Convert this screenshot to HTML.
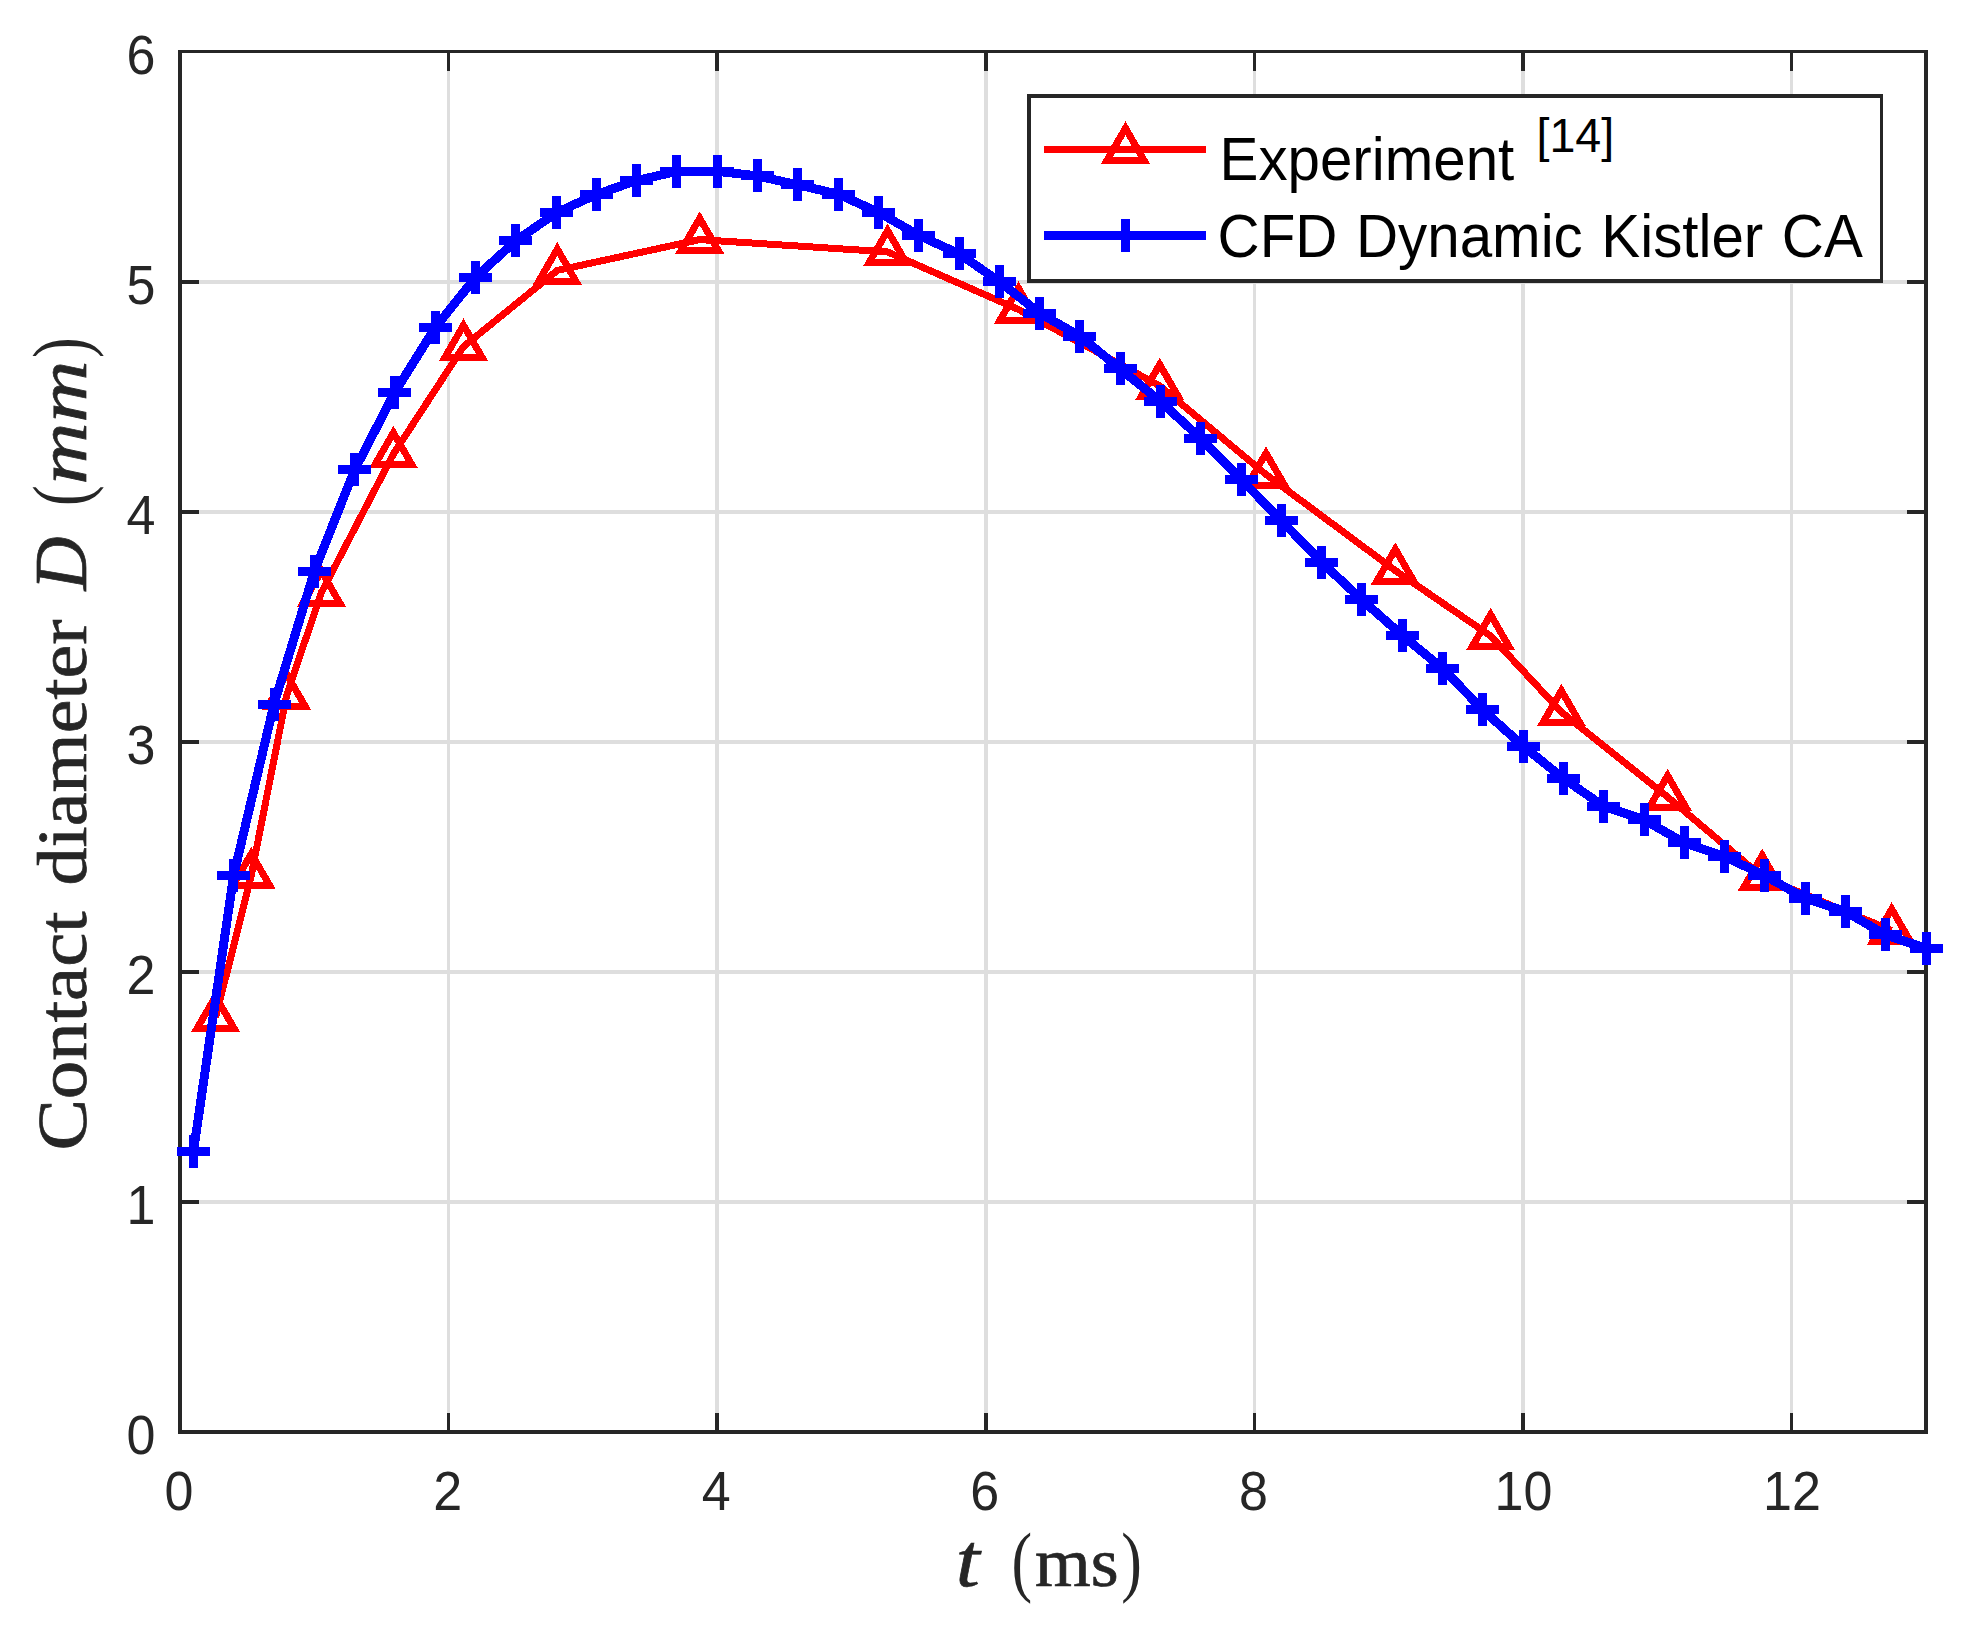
<!DOCTYPE html>
<html lang="en"><head><meta charset="utf-8"><title>Contact diameter vs time</title>
<style>html,body{margin:0;padding:0;background:#fff}body{width:1980px;height:1626px;overflow:hidden}svg{display:block}.tk{font-family:"Liberation Sans",Arial,Helvetica,sans-serif;font-size:52px;fill:#262626}.lg{font-family:"Liberation Sans",Arial,Helvetica,sans-serif;font-size:58.3px;fill:#000}.sr{font-family:"Liberation Serif","Times New Roman",serif;fill:#262626;stroke:#262626;stroke-width:0.7px}.pn{stroke:none}</style></head><body>
<svg width="1980" height="1626" viewBox="0 0 1980 1626">
<rect width="1980" height="1626" fill="#fff"/>
<g fill="#dedede" shape-rendering="crispEdges">
<rect x="447" y="53" width="3" height="1377"/>
<rect x="715" y="53" width="4" height="1377"/>
<rect x="984" y="53" width="4" height="1377"/>
<rect x="1253" y="53" width="3" height="1377"/>
<rect x="1521" y="53" width="4" height="1377"/>
<rect x="1790" y="53" width="3" height="1377"/>
<rect x="182" y="1200" width="1742" height="4"/>
<rect x="182" y="970" width="1742" height="4"/>
<rect x="182" y="740" width="1742" height="4"/>
<rect x="182" y="510" width="1742" height="4"/>
<rect x="182" y="280" width="1742" height="4"/>
</g>
<g fill="#262626" shape-rendering="crispEdges">
<rect x="178" y="50" width="4" height="1384"/>
<rect x="1924" y="50" width="4" height="1384"/>
<rect x="178" y="50" width="1750" height="3"/>
<rect x="178" y="1430" width="1750" height="4"/>
<rect x="447" y="53" width="3" height="18"/>
<rect x="447" y="1413" width="3" height="17"/>
<rect x="715" y="53" width="4" height="18"/>
<rect x="715" y="1413" width="4" height="17"/>
<rect x="984" y="53" width="4" height="18"/>
<rect x="984" y="1413" width="4" height="17"/>
<rect x="1253" y="53" width="3" height="18"/>
<rect x="1253" y="1413" width="3" height="17"/>
<rect x="1521" y="53" width="4" height="18"/>
<rect x="1521" y="1413" width="4" height="17"/>
<rect x="1790" y="53" width="3" height="18"/>
<rect x="1790" y="1413" width="3" height="17"/>
<rect x="182" y="1200" width="17" height="4"/>
<rect x="1907" y="1200" width="17" height="4"/>
<rect x="182" y="970" width="17" height="4"/>
<rect x="1907" y="970" width="17" height="4"/>
<rect x="182" y="740" width="17" height="4"/>
<rect x="1907" y="740" width="17" height="4"/>
<rect x="182" y="510" width="17" height="4"/>
<rect x="1907" y="510" width="17" height="4"/>
<rect x="182" y="280" width="17" height="4"/>
<rect x="1907" y="280" width="17" height="4"/>
</g>
<g class="tk" text-anchor="middle">
<text transform="translate(179.0,1510.3) scale(1,1.06)">0</text>
<text transform="translate(447.6,1510.3) scale(1,1.06)">2</text>
<text transform="translate(716.2,1510.3) scale(1,1.06)">4</text>
<text transform="translate(984.8,1510.3) scale(1,1.06)">6</text>
<text transform="translate(1253.5,1510.3) scale(1,1.06)">8</text>
<text transform="translate(1523.4,1510.3) scale(1,1.06)">10</text>
<text transform="translate(1792.0,1510.3) scale(1,1.06)">12</text>
</g>
<g class="tk" text-anchor="end">
<text transform="translate(155.5,1454.3) scale(1,1.06)">0</text>
<text transform="translate(155.5,1224.2) scale(1,1.06)">1</text>
<text transform="translate(155.5,994.2) scale(1,1.06)">2</text>
<text transform="translate(155.5,764.1) scale(1,1.06)">3</text>
<text transform="translate(155.5,534.0) scale(1,1.06)">4</text>
<text transform="translate(155.5,304.0) scale(1,1.06)">5</text>
<text transform="translate(155.5,73.9) scale(1,1.06)">6</text>
</g>
<g stroke="#ff0000" fill="none" shape-rendering="crispEdges">
<polyline stroke-width="7" stroke-linejoin="round" points="215.6,1017.7 251.3,875.0 286.6,695.5 321.4,592.5 393.4,454.0 463.5,346.6 557.3,270.4 699.7,239.6 887.6,251.9 1018.5,309.5 1159.7,385.8 1266.0,474.5 1395.3,570.5 1490.6,636.0 1561.4,712.0 1667.6,797.0 1762.2,876.8 1891.7,930.4"/>
<path stroke-width="7" stroke-linejoin="miter" d="M215.6 996.4L234.1 1028.4L197.1 1028.4ZM251.3 853.7L269.8 885.7L232.8 885.7ZM286.6 674.2L305.1 706.2L268.1 706.2ZM321.4 571.2L339.9 603.2L302.9 603.2ZM393.4 432.7L411.9 464.7L374.9 464.7ZM463.5 325.3L482.0 357.3L445.0 357.3ZM557.3 249.1L575.8 281.1L538.8 281.1ZM699.7 218.3L718.2 250.3L681.2 250.3ZM887.6 230.6L906.1 262.6L869.1 262.6ZM1018.5 288.2L1037.0 320.2L1000.0 320.2ZM1159.7 364.5L1178.2 396.5L1141.2 396.5ZM1266.0 453.2L1284.5 485.2L1247.5 485.2ZM1395.3 549.2L1413.8 581.2L1376.8 581.2ZM1490.6 614.7L1509.1 646.7L1472.1 646.7ZM1561.4 690.7L1579.9 722.7L1542.9 722.7ZM1667.6 775.7L1686.1 807.7L1649.1 807.7ZM1762.2 855.5L1780.7 887.5L1743.7 887.5ZM1891.7 909.1L1910.2 941.1L1873.2 941.1Z"/>
</g>
<g stroke="#0000ff" fill="none" shape-rendering="crispEdges">
<polyline stroke-width="9" stroke-linejoin="round" points="193.4,1151.7 233.7,875.2 274.0,704.3 314.3,571.5 354.6,469.9 394.9,392.1 435.2,327.6 475.5,277.4 515.8,240.8 556.1,212.9 596.4,194.4 636.6,180.6 676.9,171.3 717.2,171.3 757.5,175.9 797.8,184.9 838.1,194.1 878.4,212.2 918.7,235.3 959.0,253.8 999.3,281.4 1039.6,313.1 1079.9,336.2 1120.2,368.8 1160.4,401.4 1200.7,438.3 1241.0,479.2 1281.3,520.5 1321.6,562.2 1361.9,599.8 1402.2,635.4 1442.5,668.3 1482.8,709.8 1523.1,746.1 1563.4,778.4 1603.7,806.3 1644.0,819.7 1684.2,842.8 1724.5,856.4 1764.8,875.7 1805.1,898.2 1845.4,911.5 1885.7,934.9 1926.0,948.4"/>
<path stroke-width="9" d="M176.9 1151.7H209.9M193.4 1135.2V1168.2M217.2 875.2H250.2M233.7 858.7V891.7M257.5 704.3H290.5M274.0 687.8V720.8M297.8 571.5H330.8M314.3 555.0V588.0M338.1 469.9H371.1M354.6 453.4V486.4M378.4 392.1H411.4M394.9 375.6V408.6M418.7 327.6H451.7M435.2 311.1V344.1M459.0 277.4H492.0M475.5 260.9V293.9M499.3 240.8H532.3M515.8 224.3V257.3M539.6 212.9H572.6M556.1 196.4V229.4M579.9 194.4H612.9M596.4 177.9V210.9M620.1 180.6H653.1M636.6 164.1V197.1M660.4 171.3H693.4M676.9 154.8V187.8M700.7 171.3H733.7M717.2 154.8V187.8M741.0 175.9H774.0M757.5 159.4V192.4M781.3 184.9H814.3M797.8 168.4V201.4M821.6 194.1H854.6M838.1 177.6V210.6M861.9 212.2H894.9M878.4 195.7V228.7M902.2 235.3H935.2M918.7 218.8V251.8M942.5 253.8H975.5M959.0 237.3V270.3M982.8 281.4H1015.8M999.3 264.9V297.9M1023.1 313.1H1056.1M1039.6 296.6V329.6M1063.4 336.2H1096.4M1079.9 319.7V352.7M1103.7 368.8H1136.7M1120.2 352.3V385.3M1143.9 401.4H1176.9M1160.4 384.9V417.9M1184.2 438.3H1217.2M1200.7 421.8V454.8M1224.5 479.2H1257.5M1241.0 462.7V495.7M1264.8 520.5H1297.8M1281.3 504.0V537.0M1305.1 562.2H1338.1M1321.6 545.7V578.7M1345.4 599.8H1378.4M1361.9 583.3V616.3M1385.7 635.4H1418.7M1402.2 618.9V651.9M1426.0 668.3H1459.0M1442.5 651.8V684.8M1466.3 709.8H1499.3M1482.8 693.3V726.3M1506.6 746.1H1539.6M1523.1 729.6V762.6M1546.9 778.4H1579.9M1563.4 761.9V794.9M1587.2 806.3H1620.2M1603.7 789.8V822.8M1627.5 819.7H1660.5M1644.0 803.2V836.2M1667.7 842.8H1700.7M1684.2 826.3V859.3M1708.0 856.4H1741.0M1724.5 839.9V872.9M1748.3 875.7H1781.3M1764.8 859.2V892.2M1788.6 898.2H1821.6M1805.1 881.7V914.7M1828.9 911.5H1861.9M1845.4 895.0V928.0M1869.2 934.9H1902.2M1885.7 918.4V951.4M1909.5 948.4H1942.5M1926.0 931.9V964.9"/>
</g>
<g shape-rendering="crispEdges"><rect x="1027" y="94" width="856" height="189" fill="#262626"/><rect x="1031" y="98" width="849" height="181" fill="#fff"/></g>
<g shape-rendering="crispEdges" fill="none">
<line x1="1044" y1="149.5" x2="1206" y2="149.5" stroke="#ff0000" stroke-width="7"/>
<path d="M1125.5 128.2L1144.0 160.2L1107.0 160.2Z" stroke="#ff0000" stroke-width="7"/>
<line x1="1044" y1="235.5" x2="1206" y2="235.5" stroke="#0000ff" stroke-width="9"/>
<path d="M1109.0 235.5H1142.0M1125.5 219.0V252.0" stroke="#0000ff" stroke-width="9"/>
</g>
<text class="lg" transform="translate(1219.5,180.2) scale(1,1.04)">Experiment</text>
<text class="lg" transform="translate(1536.5,151.8) scale(1,1.04)" style="font-size:46.6px">[14]</text>
<text class="lg" transform="translate(1217.6,257.2) scale(1,1.04)" style="word-spacing:2.4px">CFD Dynamic Kistler CA</text>
<g class="sr" font-size="69">
<text x="955.8" y="1586.2" font-style="italic" font-size="77" textLength="24" lengthAdjust="spacingAndGlyphs">t</text>
<text class="pn" transform="translate(1011.5,1587.1) scale(0.86,1.075)" font-size="72">(</text>
<text x="1035" y="1586.2" textLength="83.5" lengthAdjust="spacingAndGlyphs">ms</text>
<text class="pn" transform="translate(1121.3,1587.1) scale(0.86,1.075)" font-size="72">)</text>
</g>
<g class="sr" font-size="69" transform="translate(86,1147.4) rotate(-90)">
<text x="-3" y="0" textLength="239" lengthAdjust="spacingAndGlyphs">Contact</text>
<text x="262" y="0" textLength="266" lengthAdjust="spacingAndGlyphs">diameter</text>
<text x="557" y="0" font-style="italic" font-size="73" textLength="54" lengthAdjust="spacingAndGlyphs">D</text>
<text class="pn" transform="translate(641.5,0.9) scale(0.86,1.075)" font-size="72">(</text>
<text x="663" y="0" font-style="italic" textLength="124" lengthAdjust="spacingAndGlyphs">mm</text>
<text class="pn" transform="translate(789.5,0.9) scale(0.86,1.075)" font-size="72">)</text>
</g>
</svg></body></html>
